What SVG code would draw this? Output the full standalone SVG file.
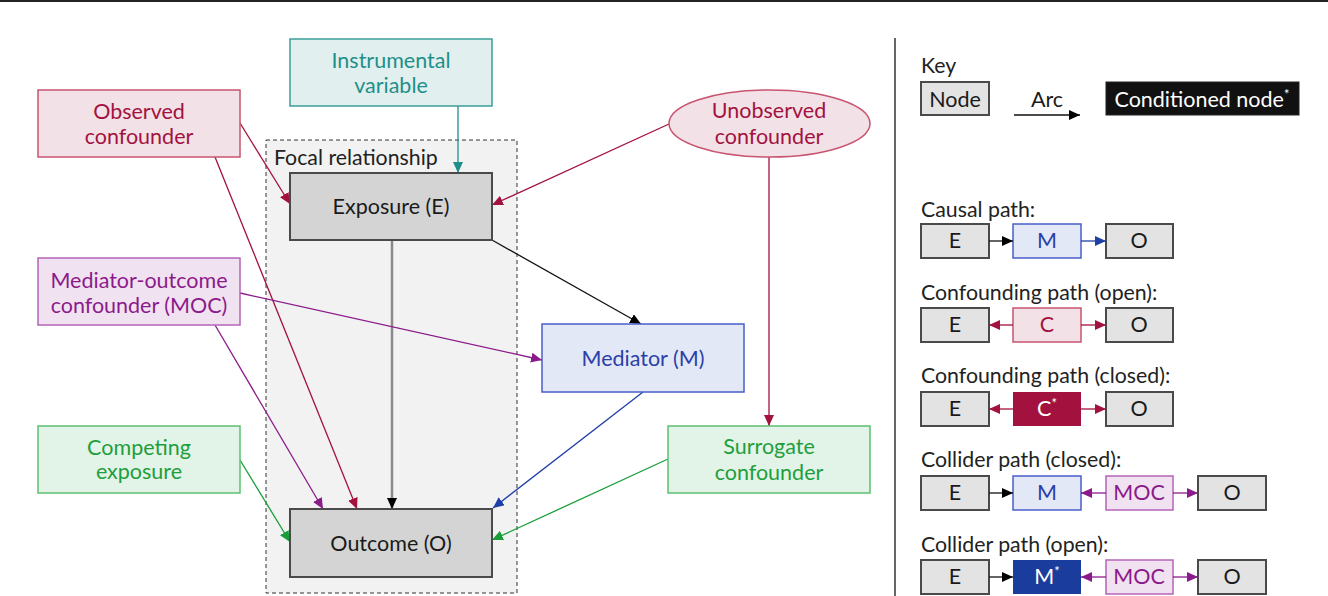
<svg xmlns="http://www.w3.org/2000/svg" width="1328" height="596" viewBox="0 0 1328 596">
<style>
text{font-family:Lato,"Open Sans","Liberation Sans",sans-serif;font-size:21.5px;text-anchor:middle}
.k{font-size:21.3px;text-anchor:start;fill:#222}
.ks{font-size:21.5px}
.red{fill:#f2e1e6;stroke:#c8546f;stroke-width:1.5}
.teal{fill:#e1f0ef;stroke:#3a9e9a;stroke-width:1.5}
.pur{fill:#f1e2f1;stroke:#b464b8;stroke-width:1.5}
.blu{fill:#e3e8f6;stroke:#4a5ec8;stroke-width:1.5}
.grn{fill:#e2f3e7;stroke:#5cc070;stroke-width:1.5}
.gry{fill:#d4d4d4;stroke:#4a4a4a;stroke-width:2}
.kg{fill:#e3e3e3;stroke:#4a4a4a;stroke-width:2}
.tr{fill:#a3123f}.tt{fill:#1f8f8a}.tp{fill:#8b1a8b}.tb{fill:#2a40a8}.tg{fill:#1f9e3c}.tk{fill:#1a1a1a}
.e{fill:none;stroke-width:1.3}
</style>
<defs>
<marker id="aR" markerUnits="userSpaceOnUse" markerWidth="12" markerHeight="10" refX="11" refY="5" orient="auto"><path d="M0,0 L11,5 L0,10 z" fill="#a3123f"/></marker>
<marker id="aT" markerUnits="userSpaceOnUse" markerWidth="12" markerHeight="10" refX="11" refY="5" orient="auto"><path d="M0,0 L11,5 L0,10 z" fill="#1f8f8a"/></marker>
<marker id="aP" markerUnits="userSpaceOnUse" markerWidth="12" markerHeight="10" refX="11" refY="5" orient="auto"><path d="M0,0 L11,5 L0,10 z" fill="#8b1a8b"/></marker>
<marker id="aB" markerUnits="userSpaceOnUse" markerWidth="12" markerHeight="10" refX="11" refY="5" orient="auto"><path d="M0,0 L11,5 L0,10 z" fill="#1f3fa8"/></marker>
<marker id="aG" markerUnits="userSpaceOnUse" markerWidth="12" markerHeight="10" refX="11" refY="5" orient="auto"><path d="M0,0 L11,5 L0,10 z" fill="#1a9e3a"/></marker>
<marker id="aK" markerUnits="userSpaceOnUse" markerWidth="12" markerHeight="10" refX="11" refY="5" orient="auto"><path d="M0,0 L11,5 L0,10 z" fill="#000"/></marker>
</defs>
<rect width="1328" height="596" fill="#fff"/>
<line x1="0" y1="1" x2="1328" y2="1" stroke="#222" stroke-width="2"/>
<line x1="895" y1="38" x2="895" y2="596" stroke="#666" stroke-width="2"/>

<g id="focal">
<rect x="266" y="140" width="251" height="453" fill="#f2f2f2" stroke="#333" stroke-width="1" stroke-dasharray="4,3"/>
<text class="k" x="274" y="165">Focal relationship</text>
</g>

<g id="connectors">
<line class="e" x1="240" y1="123" x2="290" y2="204" stroke="#a3123f" marker-end="url(#aR)"/>
<line class="e" x1="215" y1="157" x2="357" y2="509" stroke="#a3123f" marker-end="url(#aR)"/>
<line class="e" x1="458" y1="106" x2="458" y2="173" stroke="#1f8f8a" marker-end="url(#aT)"/>
<line class="e" x1="669" y1="124" x2="492" y2="205" stroke="#a3123f" marker-end="url(#aR)"/>
<line class="e" x1="769" y1="157" x2="769" y2="426" stroke="#a3123f" marker-end="url(#aR)"/>
<line class="e" x1="492" y1="240" x2="641" y2="324" stroke="#111" marker-end="url(#aK)"/>
<line x1="392" y1="241" x2="392" y2="509" stroke="#8a8a8a" stroke-width="2.5" marker-end="url(#aK)"/>
<line class="e" x1="240" y1="293" x2="542" y2="360" stroke="#8b1a8b" marker-end="url(#aP)"/>
<line class="e" x1="215" y1="325" x2="323" y2="509" stroke="#8b1a8b" marker-end="url(#aP)"/>
<line class="e" x1="643" y1="392" x2="493" y2="508" stroke="#1f3fa8" marker-end="url(#aB)"/>
<line class="e" x1="240" y1="460" x2="290" y2="542" stroke="#1a9e3a" marker-end="url(#aG)"/>
<line class="e" x1="668" y1="459" x2="492" y2="540" stroke="#1a9e3a" marker-end="url(#aG)"/>
</g>

<g id="observed-confounder">
<rect class="red" x="38" y="90" width="202" height="67"/>
<text class="tr" x="139" y="119">Observed</text>
<text class="tr" x="139" y="144">confounder</text>
</g>
<g id="instrumental-variable">
<rect class="teal" x="290" y="39" width="202" height="67"/>
<text class="tt" x="391" y="68">Instrumental</text>
<text class="tt" x="391" y="93">variable</text>
</g>
<g id="unobserved-confounder">
<ellipse class="red" cx="769.5" cy="123.5" rx="100.5" ry="33.5"/>
<text class="tr" x="769" y="118">Unobserved</text>
<text class="tr" x="769" y="144">confounder</text>
</g>
<g id="exposure">
<rect class="gry" x="290" y="173" width="202" height="67"/>
<text class="tk" x="391" y="214">Exposure (E)</text>
</g>
<g id="moc">
<rect class="pur" x="38" y="258" width="202" height="67"/>
<text class="tp" x="139" y="288">Mediator-outcome</text>
<text class="tp" x="139" y="313">confounder (MOC)</text>
</g>
<g id="mediator">
<rect class="blu" x="542" y="324" width="202" height="68"/>
<text class="tb" x="643" y="366">Mediator (M)</text>
</g>
<g id="competing-exposure">
<rect class="grn" x="38" y="426" width="202" height="67"/>
<text class="tg" x="139" y="455">Competing</text>
<text class="tg" x="139" y="479">exposure</text>
</g>
<g id="surrogate-confounder">
<rect class="grn" x="668" y="426" width="202" height="67"/>
<text class="tg" x="769" y="454">Surrogate</text>
<text class="tg" x="769" y="480">confounder</text>
</g>
<g id="outcome">
<rect class="gry" x="290" y="509" width="202" height="68"/>
<text class="tk" x="391" y="551">Outcome (O)</text>
</g>

<g id="key">
<text class="k" x="921" y="73">Key</text>
<rect class="kg" x="921" y="82" width="68" height="33"/>
<text class="tk ks" x="955" y="107">Node</text>
<line x1="1014" y1="115" x2="1080" y2="115" stroke="#111" stroke-width="1.3" marker-end="url(#aK)"/>
<text class="tk ks" x="1047" y="107">Arc</text>
<rect x="1106" y="82" width="193" height="33" fill="#111" stroke="#222" stroke-width="1"/>
<text class="ks" x="1202" y="107" fill="#fff">Conditioned node<tspan font-size="13" dy="-8">*</tspan></text>
</g>

<g id="causal-path">
<text class="k" x="921" y="217">Causal path:</text>
<rect class="kg" x="921" y="224" width="68" height="34"/>
<text class="tk ks" x="955" y="248">E</text>
<rect class="blu" x="1013" y="224" width="68" height="34"/>
<text class="tb ks" x="1047" y="248">M</text>
<rect class="kg" x="1106" y="224" width="67" height="34"/>
<text class="tk ks" x="1139" y="248">O</text>
<line x1="989" y1="241" x2="1013" y2="241" stroke="#111" stroke-width="1.3" marker-end="url(#aK)"/>
<line x1="1081" y1="241" x2="1106" y2="241" stroke="#1f3fa8" stroke-width="1.3" marker-end="url(#aB)"/>
</g>

<g id="confounding-open">
<text class="k" x="921" y="300">Confounding path (open):</text>
<rect class="kg" x="921" y="308" width="68" height="34"/>
<text class="tk ks" x="955" y="332">E</text>
<rect class="red" x="1013" y="308" width="68" height="34"/>
<text class="tr ks" x="1047" y="332">C</text>
<rect class="kg" x="1106" y="308" width="67" height="34"/>
<text class="tk ks" x="1139" y="332">O</text>
<line x1="1013" y1="325" x2="989" y2="325" stroke="#a3123f" stroke-width="1.3" marker-end="url(#aR)"/>
<line x1="1081" y1="325" x2="1106" y2="325" stroke="#a3123f" stroke-width="1.3" marker-end="url(#aR)"/>
</g>

<g id="confounding-closed">
<text class="k" x="921" y="383">Confounding path (closed):</text>
<rect class="kg" x="921" y="392" width="68" height="34"/>
<text class="tk ks" x="955" y="416">E</text>
<rect x="1013" y="392" width="68" height="34" fill="#a3123f"/>
<text class="ks" x="1047" y="416" fill="#fff">C<tspan font-size="13" dy="-8">*</tspan></text>
<rect class="kg" x="1106" y="392" width="67" height="34"/>
<text class="tk ks" x="1139" y="416">O</text>
<line x1="1013" y1="409" x2="989" y2="409" stroke="#a3123f" stroke-width="1.3" marker-end="url(#aR)"/>
<line x1="1081" y1="409" x2="1106" y2="409" stroke="#a3123f" stroke-width="1.3" marker-end="url(#aR)"/>
</g>

<g id="collider-closed">
<text class="k" x="921" y="467">Collider path (closed):</text>
<rect class="kg" x="921" y="476" width="68" height="34"/>
<text class="tk ks" x="955" y="500">E</text>
<rect class="blu" x="1013" y="476" width="68" height="34"/>
<text class="tb ks" x="1047" y="500">M</text>
<rect class="pur" x="1106" y="476" width="67" height="34"/>
<text class="tp ks" x="1139" y="500">MOC</text>
<rect class="kg" x="1198" y="476" width="68" height="34"/>
<text class="tk ks" x="1232" y="500">O</text>
<line x1="989" y1="493" x2="1013" y2="493" stroke="#111" stroke-width="1.3" marker-end="url(#aK)"/>
<line x1="1106" y1="493" x2="1081" y2="493" stroke="#8b1a8b" stroke-width="1.3" marker-end="url(#aP)"/>
<line x1="1173" y1="493" x2="1198" y2="493" stroke="#8b1a8b" stroke-width="1.3" marker-end="url(#aP)"/>
</g>

<g id="collider-open">
<text class="k" x="921" y="552">Collider path (open):</text>
<rect class="kg" x="921" y="560" width="68" height="34"/>
<text class="tk ks" x="955" y="584">E</text>
<rect x="1013" y="560" width="68" height="34" fill="#1a3c9c"/>
<text class="ks" x="1047" y="584" fill="#fff">M<tspan font-size="13" dy="-8">*</tspan></text>
<rect class="pur" x="1106" y="560" width="67" height="34"/>
<text class="tp ks" x="1139" y="584">MOC</text>
<rect class="kg" x="1198" y="560" width="68" height="34"/>
<text class="tk ks" x="1232" y="584">O</text>
<line x1="989" y1="577" x2="1013" y2="577" stroke="#111" stroke-width="1.3" marker-end="url(#aK)"/>
<line x1="1106" y1="577" x2="1081" y2="577" stroke="#8b1a8b" stroke-width="1.3" marker-end="url(#aP)"/>
<line x1="1173" y1="577" x2="1198" y2="577" stroke="#8b1a8b" stroke-width="1.3" marker-end="url(#aP)"/>
</g>
</svg>
